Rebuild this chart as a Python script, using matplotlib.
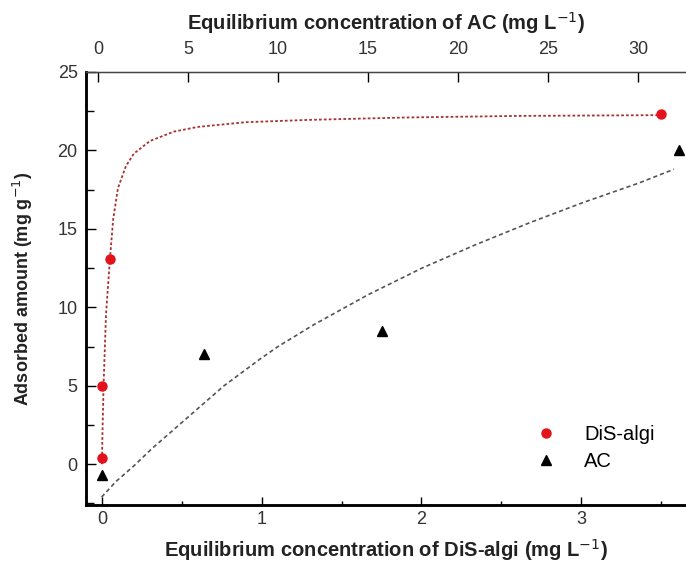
import matplotlib
matplotlib.use("Agg")
import matplotlib.pyplot as plt
from matplotlib.ticker import MultipleLocator

plt.rcParams["font.family"] = ["Liberation Sans", "DejaVu Sans"]

# measured points
disalgi_c = [0.0, 0.0, 0.05, 3.5]
disalgi_q = [0.4, 5.0, 13.1, 22.3]
ac_c = [0.2, 5.9, 15.8, 32.3]
ac_q = [-0.7, 7.0, 8.5, 20.0]

# fitted curves
disalgi_fit_c = [0.0, 0.002, 0.01, 0.025, 0.05, 0.07, 0.1, 0.15, 0.2, 0.3,
                 0.45, 0.6, 0.9, 1.3, 1.9, 2.6, 3.5]
disalgi_fit_q = [0.0, 1.5, 5.0, 9.5, 13.1, 15.6, 17.6, 19.0, 19.8, 20.6,
                 21.2, 21.5, 21.8, 21.95, 22.1, 22.2, 22.25]
ac_fit_c = [0.2, 1, 2, 3, 4, 5, 6, 7, 8, 9, 10, 12, 15, 18, 21, 24, 27, 30, 32]
ac_fit_q = [-2.1, -1.1, -0.1, 1.0, 2.0, 3.0, 4.0, 5.0, 5.85, 6.7, 7.5, 8.9,
            10.8, 12.5, 14.0, 15.4, 16.7, 17.9, 18.8]

fig = plt.figure(figsize=(6.86, 5.68), dpi=100)
ax = fig.add_axes([86 / 686, 63 / 568, 600 / 686, 433 / 568])
ax2 = ax.twiny()

ax.plot(disalgi_fit_c, disalgi_fit_q, color="#a83232", lw=1.3,
        linestyle=(0, (1.5, 1.2)), zorder=2)
p1, = ax.plot(disalgi_c, disalgi_q, "o", color="#e3121b", ms=6.5,
              mec="#e3121b", zorder=3, label="DiS-algi")

ax2.plot(ac_fit_c, ac_fit_q, color="#555555", lw=1.2,
         linestyle=(0, (2.5, 1.8)), zorder=2)
p2, = ax2.plot(ac_c, ac_q, "^", color="black", ms=7, zorder=3, label="AC")

ax.set_xlim(-0.1, 3.657)
ax.set_ylim(-2.6, 25)
ax2.set_xlim(-0.667, 32.67)

ax.xaxis.set_major_locator(MultipleLocator(1))
ax.xaxis.set_minor_locator(MultipleLocator(0.5))
ax.yaxis.set_major_locator(MultipleLocator(5))
ax.yaxis.set_minor_locator(MultipleLocator(2.5))
ax2.xaxis.set_major_locator(MultipleLocator(5))

ax.tick_params(axis="x", which="major", direction="in", length=6, width=1,
               labelsize=13, labelcolor="#333333", pad=4)
ax.tick_params(axis="x", which="minor", direction="in", length=3, width=1)
ax.tick_params(axis="y", which="major", direction="in", length=7, width=1,
               labelsize=13, labelcolor="#333333", pad=6)
ax.tick_params(axis="y", which="minor", direction="in", length=6, width=1)
ax2.tick_params(axis="x", which="major", direction="in", length=7, width=1,
                labelsize=13, labelcolor="#333333", pad=10)

for a in (ax, ax2):
    a.spines["right"].set_visible(False)
ax.spines["left"].set_linewidth(1.8)
ax.spines["bottom"].set_linewidth(1.8)
ax2.spines["left"].set_linewidth(1.8)
ax2.spines["bottom"].set_linewidth(1.8)
ax2.spines["top"].set_linewidth(1.0)
ax2.spines["top"].set_color("#444444")

ax.set_xlabel("Equilibrium concentration of DiS-algi (mg L$^{-1}$)",
              fontsize=14.5, fontweight="bold", color="#222222", labelpad=7)
ax2.set_xlabel("Equilibrium concentration of AC (mg L$^{-1}$)",
               fontsize=14.5, fontweight="bold", color="#222222", labelpad=8)
ax.set_ylabel("Adsorbed amount (mg g$^{-1}$)", fontsize=13,
              fontweight="bold", color="#222222", labelpad=16)

ax2.legend(handles=[p1, p2], loc="center left", bbox_to_anchor=(0.716, 0.132),
           frameon=False, fontsize=14.5, borderpad=0, labelspacing=0.4,
           handletextpad=0.9, numpoints=1)

fig.savefig("out.png", dpi=100)
